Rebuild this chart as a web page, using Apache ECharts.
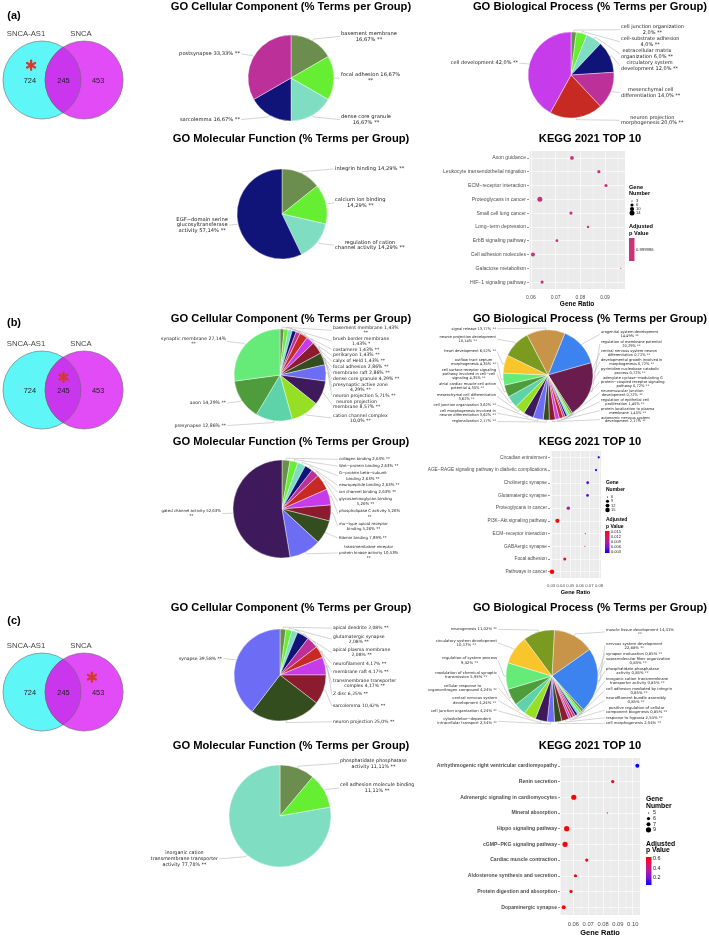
<!DOCTYPE html>
<html><head><meta charset="utf-8">
<script src="https://cdn.jsdelivr.net/npm/echarts@6.0.0/dist/echarts.min.js"></script>
<style>html,body{margin:0;padding:0;background:#fff;}#chart{width:709px;height:936px;}</style>
</head><body><div id="chart"></div>
<script>
// ================= DATA =================
const vennSets = ['SNCA-AS1', 'SNCA'];
const vennCounts = [724, 245, 453];            // SNCA-AS1 only, shared, SNCA only
const vennHighlight = ['left', 'both', 'right']; // starred region in panels a, b, c

// ---- panel (a) ----
const ccA_labels = ['basement membrane\n{v} **', 'focal adhesion {v}\n**', 'dense core granule\n{v} **', 'sarcolemma {v} **', 'postsynapse {v} **'];
const ccA_values = [16.67, 16.67, 16.67, 16.67, 33.33];
const bpA_labels = ['cell junction organization\n{v} **', 'cell-substrate adhesion\n{v} **', 'extracellular matrix\norganization {v} **', 'circulatory system\ndevelopment {v} **', 'mesenchymal cell\ndifferentiation {v} **', 'neuron projection\nmorphogenesis {v} **', 'cell development {v} **'];
const bpA_values = [2.0, 4.0, 6.0, 12.0, 14.0, 20.0, 42.0];
const mfA_labels = ['integrin binding {v} **', 'calcium ion binding\n{v} **', 'regulation of cation\nchannel activity {v} **', 'EGF−domain serine\nglucosyltransferase\nactivity {v} **'];
const mfA_values = [14.29, 14.29, 14.29, 57.14];
const keggA_terms = ['Axon guidance', 'Leukocyte transendothelial migration', 'ECM−receptor interaction', 'Proteoglycans in cancer', 'Small cell lung cancer', 'Long−term depression', 'ErbB signaling pathway', 'Cell adhesion molecules', 'Galactose metabolism', 'HIF−1 signaling pathway'];
const keggA_ratio = [0.0766, 0.0875, 0.0904, 0.0636, 0.0762, 0.0831, 0.0705, 0.0608, 0.0964, 0.0645];
const keggA_genes = [8, 6, 6, 14, 6, 4, 5, 9, 3, 6];
const keggA_padj = [0.999996, 0.999996, 0.999996, 0.999996, 0.999996, 0.999996, 0.999996, 0.999996, 0.999996, 0.999996];
const keggA_sizeTicks = [3, 6, 10, 14];
const keggA_pTicks = [0.999996];

// ---- panel (b) ----
const ccB_labels = ['basement membrane {v}\n**', 'brush border membrane\n{v} *', 'costamere {v} **', 'perikaryon {v} **', 'calyx of Held {v} **', 'focal adhesion {v} **', 'membrane raft {v} **', 'dense core granule {v} **', 'presynaptic active zone\n{v} **', 'neuron projection {v} **', 'neuron projection\nmembrane {v} **', 'cation channel complex\n{v} **', 'presynapse {v} **', 'axon {v} **', 'synaptic membrane {v}\n**'];
const ccB_values = [1.43, 1.43, 1.43, 1.43, 1.43, 2.86, 2.86, 4.29, 4.29, 5.71, 8.57, 10.0, 12.86, 14.29, 27.14];
const bpB_labels = ['urogenital system development\n{v} **', 'regulation of membrane potential\n{v} **', 'central nervous system neuron\ndifferentiation {v} **', 'developmental growth involved in\nmorphogenesis {v} **', 'pyrimidine nucleobase catabolic\nprocess {v} **', 'adenylate cyclase−modulating G\nprotein−coupled receptor signaling\npathway {v} **', 'neuromuscular junction\ndevelopment {v} **', 'regulation of epithelial cell\nproliferation {v} **', 'protein localization to plasma\nmembrane {v} **', 'autonomic nervous system\ndevelopment {v} **', 'regionalization {v} **', 'cell morphogenesis involved in\nneuron differentiation {v} **', 'cell junction organization {v} **', 'mesenchymal cell differentiation\n{v} **', 'atrial cardiac muscle cell action\npotential {v} **', 'cell surface receptor signaling\npathway involved in cell−cell\nsignaling {v} **', 'outflow tract septum\nmorphogenesis {v} **', 'heart development {v} **', 'neuron projection development\n{v} **', 'signal release {v} **'];
const bpB_values = [14.49, 20.29, 0.72, 0.72, 0.72, 0.72, 0.72, 1.45, 1.45, 2.17, 2.17, 3.62, 3.62, 3.62, 4.35, 4.35, 4.35, 6.52, 10.14, 13.77];
const mfB_labels = ['collagen binding {v} **', 'Wnt−protein binding {v} **', 'G−protein beta−subunit\nbinding {v} **', 'neuropeptide binding {v} **', 'ion channel binding {v} **', 'glycosaminoglycan binding\n{v} **', 'phospholipase C activity {v}\n**', 'mu−type opioid receptor\nbinding {v} **', 'filamin binding {v} **', 'transmembrane receptor\nprotein kinase activity {v}\n**', 'gated channel activity {v}\n**'];
const mfB_values = [2.63, 2.63, 2.63, 2.63, 2.63, 5.26, 5.26, 5.26, 7.89, 10.53, 52.63];
const keggB_terms = ['Circadian entrainment', 'AGE−RAGE signaling pathway in diabetic complications', 'Cholinergic synapse', 'Glutamatergic synapse', 'Proteoglycans in cancer', 'PI3K−Akt signaling pathway', 'ECM−receptor interaction', 'GABAergic synapse', 'Focal adhesion', 'Pathways in cancer'];
const keggB_ratio = [0.0797, 0.0769, 0.0682, 0.0680, 0.0480, 0.0366, 0.0657, 0.0653, 0.0443, 0.0310];
const keggB_genes = [7, 7, 8, 8, 10, 13, 6, 6, 9, 15];
const keggB_padj = [0.0024, 0.0035, 0.0045, 0.0045, 0.0085, 0.0150, 0.0140, 0.0140, 0.0145, 0.0156];
const keggB_sizeTicks = [6, 9, 12, 15];
const keggB_pTicks = [0.015, 0.012, 0.009, 0.006, 0.003];

// ---- panel (c) ----
const ccC_labels = ['apical dendrite {v} **', 'glutamatergic synapse\n{v} **', 'apical plasma membrane\n{v} **', 'neurofilament {v} **', 'membrane raft {v} **', 'transmembrane transporter\ncomplex {v} **', 'Z disc {v} **', 'sarcolemma {v} **', 'neuron projection {v} **', 'synapse {v} **'];
const ccC_values = [2.08, 2.08, 2.08, 4.17, 4.17, 4.17, 6.25, 10.42, 25.0, 39.58];
const bpC_labels = ['muscle tissue development {v}\n**', 'nervous system development\n{v} **', 'synapse maturation {v} **', 'supramolecular fiber organization\n{v} **', 'phosphatidate phosphatase\nactivity {v} **', 'inorganic cation transmembrane\ntransporter activity {v} **', 'cell adhesion mediated by integrin\n{v} **', 'neurofilament bundle assembly\n{v} **', 'positive regulation of cellular\ncomponent biogenesis {v} **', 'response to hypoxia {v} **', 'cell morphogenesis {v} **', 'cytoskeleton−dependent\nintracellular transport {v} **', 'cell junction organization {v} **', 'central nervous system\ndevelopment {v} **', 'cellular response to\norganonitrogen compound {v} **', 'modulation of chemical synaptic\ntransmission {v} **', 'regulation of system process\n{v} **', 'circulatory system development\n{v} **', 'neurogenesis {v} **'];
const bpC_values = [14.41, 22.88, 0.85, 0.85, 0.85, 0.85, 0.85, 0.85, 0.85, 2.54, 2.54, 2.54, 4.24, 4.24, 4.24, 5.93, 9.32, 10.17, 11.02];
const mfC_labels = ['phosphatidate phosphatase\nactivity {v} **', 'cell adhesion molecule binding\n{v} **', 'inorganic cation\ntransmembrane transporter\nactivity {v} **'];
const mfC_values = [11.11, 11.11, 77.78];
const keggC_terms = ['Arrhythmogenic right ventricular cardiomyopathy', 'Renin secretion', 'Adrenergic signaling in cardiomyocytes', 'Mineral absorption', 'Hippo signaling pathway', 'cGMP−PKG signaling pathway', 'Cardiac muscle contraction', 'Aldosterone synthesis and secretion', 'Protein digestion and absorption', 'Dopaminergic synapse'];
const keggC_ratio = [0.1031, 0.0865, 0.0603, 0.0829, 0.0555, 0.0544, 0.0690, 0.0614, 0.0584, 0.0535];
const keggC_genes = [7, 6, 9, 5, 9, 9, 6, 6, 6, 7];
const keggC_padj = [0.05, 0.63, 0.63, 0.62, 0.63, 0.63, 0.63, 0.63, 0.63, 0.64];
const keggC_sizeTicks = [5, 6, 7, 9];
const keggC_pTicks = [0.6, 0.4, 0.2];

// ================= STYLE / LAYOUT =================
const FONT = 'Liberation Sans';
const PIEFONT = 'DejaVu Sans';
const palette = ['#6B8E4E', '#66EE33', '#7FDDC2', '#101478', '#BC309A', '#C62A22', '#C63CEB', '#8B1B2F', '#344D1E', '#6C6CF5', '#3E1A5C', '#95E024', '#5ED3AA', '#4E9C3C', '#66EB78', '#F8C52A', '#7A9A20', '#C89548', '#3C83F0', '#6B1C4E'];
const GRAD = ['#0000FF', '#7C10D8', '#B41A9D', '#DC1463', '#FF0000'];

const grids = [], xAxes = [], yAxes = [], series = [], visualMaps = [], gfx = [];
const measCtx = document.createElement('canvas').getContext('2d');
function textW(s, fs) {
  measCtx.font = fs + 'px "' + PIEFONT + '"';
  return Math.max.apply(null, s.split('\n').map(l => measCtx.measureText(l).width));
}

function pct(v) { let s = v.toFixed(2); if (s.endsWith('00')) s = s.slice(0, -1); return s.replace('.', ',') + '%'; }

function txt(t, x, y, fs, opt) {
  opt = opt || {};
  gfx.push({ type: 'text', x: x, y: y, silent: true, z: 50,
    style: { text: t, fontSize: fs, fontFamily: opt.ff || FONT, fontWeight: opt.fw || 'normal', fill: opt.fill || '#000',
      align: opt.align || 'center', textAlign: opt.align || 'center', verticalAlign: 'middle', textVerticalAlign: 'middle' } });
}

// pie with ClueGO-like stacked side labels
function addPie(labels, values, cx, cy, r, fs, lh, rot, startAngle, padR, padL) {
  const n = values.length;
  const total = values.reduce((a, b) => a + b, 0);
  const names = labels.map((l, i) => l.replace('{v}', pct(values[i])));
  const t0 = 90 - startAngle;
  let cum = 0;
  const items = names.map((nm, i) => {
    let mid = t0 + (cum + values[i] / 2) / total * 360; cum += values[i];
    mid = ((mid % 360) + 360) % 360;
    const rad = mid * Math.PI / 180;
    const lines = nm.split('\n').length;
    return { i: i, mid: mid, sn: Math.sin(rad), cs: Math.cos(rad), h: lines * lh, w: textW(nm, fs), ny: cy - (r + 5) * Math.cos(rad) };
  });
  const layout = {};
  ['R', 'L'].forEach(side => {
    const arr = items.filter(it => side === 'R' ? it.mid < 180 : it.mid >= 180);
    arr.sort((a, b) => side === 'R' ? a.mid - b.mid : b.mid - a.mid);
    const gap = 0.6, topLim = cy - r - 8, botLim = cy + r + 8;
    let prev = topLim - gap;
    arr.forEach(it => { it.top = Math.max(it.ny - it.h / 2, prev + gap); prev = it.top + it.h; });
    let next = botLim + gap;
    for (let k = arr.length - 1; k >= 0; k--) {
      const it = arr[k];
      if (it.top + it.h > next - gap) it.top = next - gap - it.h;
      next = it.top;
    }
    if (arr.length >= 8) {           // crowded side: spread labels evenly over the pie height
      const eTop = cy - r - 2, eBot = cy + r + 2;
      const totH = arr.reduce((s, it) => s + it.h, 0);
      const g = Math.max(gap, (eBot - eTop - totH) / (arr.length - 1));
      let t = eTop;
      arr.forEach(it => { const et = t; t += it.h + g; it.top = 0.75 * et + 0.25 * it.top; });
    }
    const sgn = side === 'R' ? 1 : -1;
    const pad = side === 'R' ? padR : padL;
    arr.forEach(it => {
      const edgeX = cx + sgn * (r + pad);
      const yc = it.top + it.h / 2;
      const p0 = [cx + 0.8 * r * it.sn, cy - 0.8 * r * it.cs];
      const p1 = [cx + (r + 2) * it.sn, cy - (r + 2) * it.cs];
      const p2 = [edgeX - sgn * 1.2, yc];
      layout[it.i] = { x: edgeX + sgn * it.w / 2, y: yc, align: 'center', verticalAlign: 'middle', labelLinePoints: [p0, p1, p2] };
    });
  });
  series.push({
    type: 'pie', center: [cx, cy], radius: r, startAngle: startAngle, clockwise: true,
    avoidLabelOverlap: false, silent: true, animation: false,
    itemStyle: { borderColor: '#ffffff', borderWidth: 0.4 },
    label: { show: true, position: 'outside', formatter: '{b}', fontSize: fs, lineHeight: lh, color: '#222', fontFamily: PIEFONT, align: 'center' },
    labelLine: { show: true, length: 3, length2: 4, smooth: false, lineStyle: { color: '#a8a8a8', width: 0.5 } },
    labelLayout: function (params) { return layout[params.dataIndex]; },
    emphasis: { disabled: true },
    data: values.map((v, i) => ({ value: v, name: names[i], itemStyle: { color: palette[(i + rot) % n] } }))
  });
}

function addVenn(top, hl) {
  const gi = grids.length;
  const D = 1.08;
  grids.push({ left: 0, top: top, width: 130, height: 78, show: false, containLabel: false, outerBoundsMode: 'none' });
  xAxes.push({ type: 'value', gridIndex: gi, min: -42 / 39, max: 88 / 39, show: false });
  yAxes.push({ type: 'value', gridIndex: gi, min: -1, max: 1, show: false });
  const regionX = [-0.31, 0.55, 1.44];
  const starPos = { left: [-0.28, 0.38], both: [0.55, 0.33], right: [1.28, 0.38] };
  series.push({
    type: 'custom', xAxisIndex: gi, yAxisIndex: gi, silent: true, animation: false,
    data: vennCounts.map((c, i) => [i, 0, c]),
    renderItem: function (params, api) {
      const idx = params.dataIndex;
      const c1 = api.coord([0, 0]), c2 = api.coord([D, 0]);
      const R = api.size([1, 1])[0];
      const ch = [];
      if (idx === 0) {
        ch.push({ type: 'circle', shape: { cx: c1[0], cy: c1[1], r: R }, style: { fill: '#5FF6F8', stroke: '#6a6a6a', lineWidth: 0.6 } });
        ch.push({ type: 'circle', shape: { cx: c2[0], cy: c2[1], r: R }, style: { fill: '#E24CF6', stroke: '#6a6a6a', lineWidth: 0.6 } });
        const a = (c2[0] - c1[0]) / 2, h = Math.sqrt(R * R - a * a), mx = c1[0] + a, y = c1[1];
        ch.push({ type: 'path', shape: { pathData: 'M' + mx + ' ' + (y - h) + 'A' + R + ' ' + R + ' 0 0 1 ' + mx + ' ' + (y + h) + 'A' + R + ' ' + R + ' 0 0 1 ' + mx + ' ' + (y - h) + 'Z' }, style: { fill: '#C936EE', stroke: '#6a6a6a', lineWidth: 0.6 } });
        const l1 = api.coord([-0.41, 1.18]), l2 = api.coord([D - 0.08, 1.18]);
        ch.push({ type: 'text', x: l1[0], y: l1[1], style: { text: vennSets[0], fontSize: 7.7, fontFamily: FONT, fill: '#444', align: 'center', verticalAlign: 'middle' } });
        ch.push({ type: 'text', x: l2[0], y: l2[1], style: { text: vennSets[1], fontSize: 7.7, fontFamily: FONT, fill: '#444', align: 'center', verticalAlign: 'middle' } });
        const sc = api.coord(starPos[hl]);
        const L = 4.6;
        [90, 30, 150].forEach(ang => {
          const rad = ang * Math.PI / 180, dx = Math.cos(rad) * L, dy = Math.sin(rad) * L;
          ch.push({ type: 'line', shape: { x1: sc[0] - dx, y1: sc[1] - dy, x2: sc[0] + dx, y2: sc[1] + dy }, style: { stroke: '#D23A2C', lineWidth: 2.3, lineCap: 'round' }, z2: 10 });
        });
      }
      const p = api.coord([regionX[idx], -0.02]);
      ch.push({ type: 'text', x: p[0], y: p[1], z2: 20, style: { text: String(api.value(2)), fontSize: 7.4, fontFamily: FONT, fill: '#222', align: 'center', verticalAlign: 'middle' } });
      return { type: 'group', children: ch };
    }
  });
}

function addKegg(o) {
  const gi = grids.length;
  grids.push({ left: o.left, top: o.top, width: o.width, height: o.height, show: true, backgroundColor: '#EBEBEB', borderWidth: 0, containLabel: false, outerBoundsMode: 'none' });
  xAxes.push({ type: 'value', gridIndex: gi, min: o.xmin, max: o.xmax, splitNumber: 4, scale: true,
    axisLine: { show: false }, axisTick: { show: false },
    axisLabel: { fontSize: o.xfs, color: '#4D4D4D', margin: o.xmargin, showMinLabel: false, showMaxLabel: false, fontFamily: FONT, formatter: v => v.toFixed(2) },
    splitLine: { show: true, lineStyle: { color: '#ffffff', width: 0.6 } },
    minorTick: { show: false, splitNumber: 2 }, minorSplitLine: { show: true, lineStyle: { color: '#ffffff', width: 0.3 } },
    name: 'Gene Ratio', nameLocation: 'middle', nameGap: o.nameGap,
    nameTextStyle: { fontSize: o.nfs, fontWeight: 'bold', color: '#000', fontFamily: FONT } });
  yAxes.push({ type: 'category', gridIndex: gi, data: o.terms, inverse: true, boundaryGap: true,
    axisLine: { show: false },
    axisTick: { show: true, length: 2, alignWithLabel: true, lineStyle: { color: '#333', width: 0.5 } },
    axisLabel: { fontSize: o.yfs, color: '#4D4D4D', margin: 3, interval: 0, fontFamily: FONT, fontWeight: o.bold ? 'bold' : 'normal' },
    splitLine: { show: false } });
  const sizeFn = g => o.dmin + (o.dmax - o.dmin) * Math.sqrt(Math.max(0, (g - o.gmin) / (o.gmax - o.gmin)));
  const si = series.length;
  series.push({
    type: 'scatter', xAxisIndex: gi, yAxisIndex: gi, silent: true, animation: false, z: 3,
    data: o.ratio.map((r, i) => [r, o.terms[i], o.genes[i], o.padj[i]]),
    symbolSize: d => sizeFn(d[2]),
    itemStyle: o.color ? { color: o.color, opacity: 1 } : { opacity: 1 },
    markLine: { silent: true, symbol: ['none', 'none'], z: 1, animation: false, label: { show: false },
      lineStyle: { color: '#ffffff', width: 0.6, type: 'solid' }, emphasis: { disabled: true },
      data: o.terms.map(t => ({ yAxis: t })) }
  });
  if (!o.color) {
    visualMaps.push({ type: 'continuous', show: false, seriesIndex: si, dimension: 3, min: o.pmin, max: o.pmax, inRange: { color: GRAD } });
  }
  const L = o.leg;
  txt('Gene', L.x, L.gy[0], L.gfs, { fw: 'bold', align: 'left' });
  txt('Number', L.x, L.gy[1], L.gfs, { fw: 'bold', align: 'left' });
  o.sizeTicks.forEach((g, k) => {
    const yy = L.iy0 + k * L.istep;
    gfx.push({ type: 'circle', silent: true, z: 50, shape: { cx: L.dotX, cy: yy, r: sizeFn(g) / 2 }, style: { fill: '#000' } });
    txt(String(g), L.labX, yy, L.ifs, { align: 'left', fill: '#222' });
  });
  txt('Adjusted', L.x, L.py[0], L.gfs, { fw: 'bold', align: 'left' });
  txt('p Value', L.x, L.py[1], L.gfs, { fw: 'bold', align: 'left' });
  if (o.color) {
    gfx.push({ type: 'rect', silent: true, z: 50, shape: { x: L.barX, y: L.barY, width: L.barW, height: L.barH }, style: { fill: o.color } });
    o.pTicks.forEach(p => txt(String(p), L.labX, L.barY + L.barH / 2, L.ifs, { align: 'left', fill: '#222' }));
  } else {
    const stops = GRAD.slice().reverse().map((c, k, arr) => ({ offset: k / (arr.length - 1), color: c }));
    gfx.push({ type: 'rect', silent: true, z: 50, shape: { x: L.barX, y: L.barY, width: L.barW, height: L.barH },
      style: { fill: new echarts.graphic.LinearGradient(0, 0, 0, 1, stops) } });
    o.pTicks.forEach(p => {
      const yy = L.barY + (o.pmax - p) / (o.pmax - o.pmin) * L.barH;
      txt(String(p), L.labX, yy, L.ifs, { align: 'left', fill: '#222' });
    });
  }
}

// ================= BUILD =================
txt('(a)', 14, 16, 11, { fw: 'bold' });
txt('(b)', 14, 323, 11, { fw: 'bold' });
txt('(c)', 14, 621, 11, { fw: 'bold' });
const titleRows = [[7, 139], [319, 442], [608, 746]];
titleRows.forEach(r => {
  txt('GO Cellular Component (% Terms per Group)', 291, r[0], 11.2, { fw: 'bold' });
  txt('GO Biological Process (% Terms per Group)', 590, r[0], 11.2, { fw: 'bold' });
  txt('GO Molecular Function (% Terms per Group)', 291, r[1], 11.2, { fw: 'bold' });
  txt('KEGG 2021 TOP 10', 590, r[1], 11.2, { fw: 'bold' });
});

addVenn(41, vennHighlight[0]);
addVenn(351, vennHighlight[1]);
addVenn(653, vennHighlight[2]);

//     labels      values      cx   cy   r   fs   lh  rot start padR padL
addPie(ccA_labels, ccA_values, 291, 78, 43, 5.2, 6.0, 0, 90, 7, 8);
addPie(bpA_labels, bpA_values, 571, 75, 43, 5.0, 5.7, 0, 90, 7, 10);
addPie(mfA_labels, mfA_values, 282, 214, 45, 5.2, 5.8, 0, 90, 8, 9);
addPie(ccB_labels, ccB_values, 280, 375, 46, 4.6, 4.8, 0, 90, 7, 8);
addPie(bpB_labels, bpB_values, 548, 375, 45, 3.6, 3.9, 18, 68, 8, 7);
addPie(mfB_labels, mfB_values, 282, 509, 49, 3.9, 5.5, 0, 90, 8, 12);
addPie(ccC_labels, ccC_values, 280, 675, 46, 4.5, 5.0, 0, 90, 7, 12);
addPie(bpC_labels, bpC_values, 552, 676, 46, 3.8, 4.2, 17, 87, 8, 9);
addPie(mfC_labels, mfC_values, 280, 816, 51, 4.8, 5.9, 0, 90, 9, 11);

addKegg({ left: 529, top: 151, width: 96, height: 138, xmin: 0.0592, xmax: 0.0981, xfs: 5, xmargin: 6, nameGap: 11.5, nfs: 6.5, yfs: 5.1, bold: false,
  terms: keggA_terms, ratio: keggA_ratio, genes: keggA_genes, padj: keggA_padj, color: '#C8337A',
  gmin: 3, gmax: 14, dmin: 1.2, dmax: 5, sizeTicks: keggA_sizeTicks, pTicks: keggA_pTicks,
  leg: { x: 629, gy: [187, 193], gfs: 5.6, iy0: 201, istep: 4, dotX: 632, labX: 636, ifs: 4.2, py: [226, 233], barX: 629, barY: 238, barW: 5.5, barH: 23 } });
addKegg({ left: 550, top: 451, width: 51, height: 127, xmin: 0.0289, xmax: 0.0821, xfs: 4.2, xmargin: 6, nameGap: 11.5, nfs: 5.6, yfs: 4.8, bold: false,
  terms: keggB_terms, ratio: keggB_ratio, genes: keggB_genes, padj: keggB_padj, pmin: 0.0024, pmax: 0.0156,
  gmin: 6, gmax: 15, dmin: 1.2, dmax: 4.5, sizeTicks: keggB_sizeTicks, pTicks: keggB_pTicks,
  leg: { x: 606, gy: [483, 490], gfs: 5, iy0: 497, istep: 4.3, dotX: 607.5, labX: 611, ifs: 4, py: [520, 527], barX: 605, barY: 531, barW: 4.5, barH: 22 } });
addKegg({ left: 560, top: 758, width: 80, height: 157, xmin: 0.0510, xmax: 0.1049, xfs: 5.8, xmargin: 6.5, nameGap: 13.5, nfs: 7.5, yfs: 5.1, bold: true,
  terms: keggC_terms, ratio: keggC_ratio, genes: keggC_genes, padj: keggC_padj, pmin: 0.05, pmax: 0.64,
  gmin: 5, gmax: 9, dmin: 1.2, dmax: 5.2, sizeTicks: keggC_sizeTicks, pTicks: keggC_pTicks,
  leg: { x: 646, gy: [799, 806], gfs: 6.8, iy0: 813, istep: 5.6, dotX: 648.5, labX: 653, ifs: 5.4, py: [844, 850], barX: 646, barY: 857, barW: 5.5, barH: 28 } });

const chart = echarts.init(document.getElementById('chart'), null, { renderer: 'canvas', width: 709, height: 936 });
chart.setOption({
  backgroundColor: '#ffffff',
  animation: false,
  textStyle: { fontFamily: FONT },
  grid: grids, xAxis: xAxes, yAxis: yAxes,
  visualMap: visualMaps,
  series: series,
  graphic: { elements: gfx }
});
</script></body></html>
